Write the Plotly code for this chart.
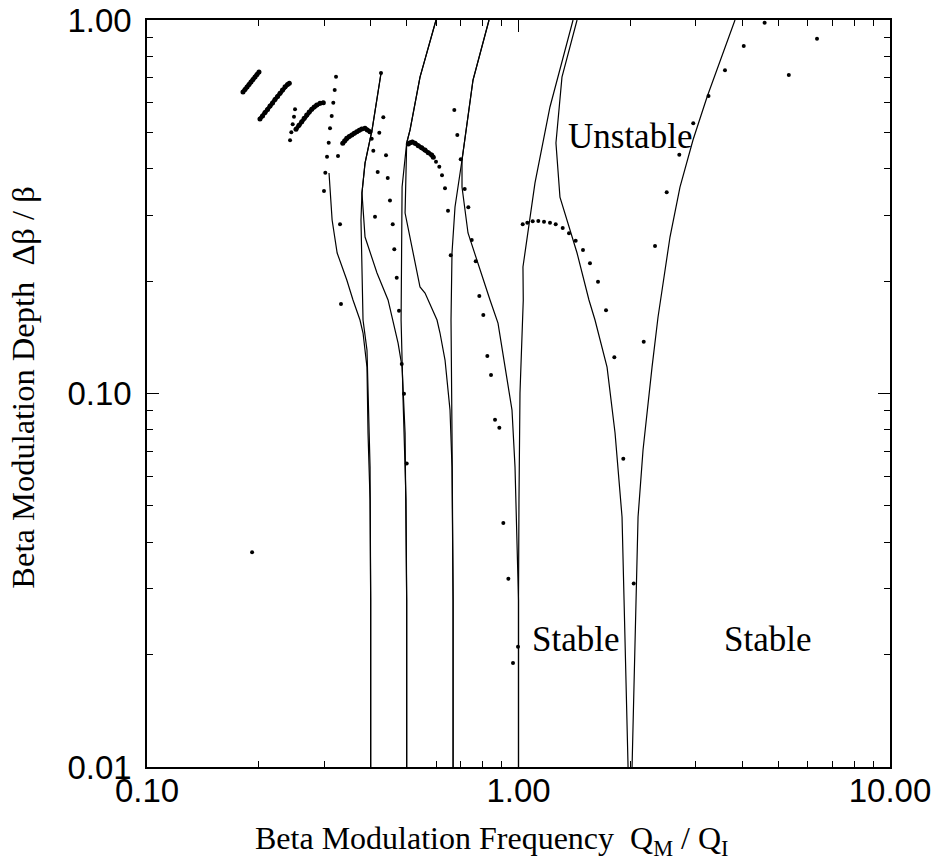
import math
import plotly.graph_objects as go

# ---------------- stability boundary curves (Q_M/Q_I , dBeta/Beta) ----------------
t04l_x = [0.309, 0.315, 0.325, 0.345, 0.3585, 0.3744, 0.3815, 0.391, 0.3935, 0.3985, 0.40, 0.40]
t04l_y = [0.3894, 0.2914, 0.2378, 0.2013, 0.178, 0.1573, 0.1452, 0.1177, 0.0784, 0.0519, 0.028, 0.01]

t04r_x = [0.4266, 0.4035, 0.3863, 0.379, 0.3767, 0.3815, 0.391, 0.3985, 0.40, 0.40]
t04r_y = [0.7213, 0.5077, 0.4141, 0.3441, 0.2914, 0.1573, 0.1307, 0.0636, 0.028, 0.01]

t05l_x = [0.4266, 0.4035, 0.3863, 0.379, 0.3863, 0.416, 0.4455, 0.4596, 0.4741, 0.486, 0.4951, 0.498, 0.50, 0.50]
t05l_y = [0.7213, 0.5077, 0.4141, 0.3441, 0.2624, 0.2102, 0.178, 0.1573, 0.1365, 0.1177, 0.0784, 0.0423, 0.028, 0.01]

t05r_x = [0.5998, 0.5431, 0.5106, 0.50, 0.486, 0.4845, 0.483, 0.489, 0.498, 0.50, 0.50]
t05r_y = [1.0, 0.7033, 0.5077, 0.4685, 0.3571, 0.20, 0.1573, 0.0961, 0.0519, 0.028, 0.01]

t067l_x = [0.5998, 0.5431, 0.5106, 0.50, 0.4951, 0.5431, 0.5603, 0.6035, 0.6148, 0.6342, 0.6541, 0.6622, 0.6667, 0.6667]
t067l_y = [1.0, 0.7033, 0.5077, 0.4685, 0.3042, 0.1928, 0.1858, 0.1573, 0.1452, 0.1229, 0.0903, 0.0636, 0.028, 0.01]

t067r_x = [0.833, 0.7543, 0.7046, 0.6747, 0.6622, 0.6582, 0.6622, 0.6667, 0.6667]
t067r_y = [1.0, 0.6908, 0.4218, 0.3157, 0.2378, 0.1573, 0.0784, 0.028, 0.01]

t10l_x = [0.833, 0.7543, 0.7046, 0.7046, 0.7313, 0.8025, 0.8382, 0.8807, 0.9605, 0.9786, 0.9908, 1.0, 1.0]
t10l_y = [1.0, 0.6908, 0.4218, 0.3571, 0.269, 0.2013, 0.178, 0.1544, 0.0903, 0.0636, 0.0423, 0.028, 0.01]

t10r_x = [1.4022, 1.2153, 1.1076, 1.028, 1.03, 1.0093, 1.003, 1.0, 1.0]
t10r_y = [1.0, 0.5849, 0.3662, 0.2182, 0.178, 0.1003, 0.0519, 0.028, 0.01]

t20l_x = [1.4375, 1.3092, 1.2613, 1.293, 1.4375, 1.5476, 1.6068, 1.7312, 1.8193, 1.8998, 1.9236, 1.9478, 1.972]
t20l_y = [1.0, 0.7033, 0.4685, 0.3357, 0.2378, 0.178, 0.1573, 0.1177, 0.0784, 0.0467, 0.028, 0.0151, 0.01]

t20r_x = [3.8262, 3.2174, 2.9492, 2.7207, 2.5575, 2.4193, 2.3747, 2.288, 2.2182, 2.1637, 2.098, 2.085, 2.0722, 2.0215]
t20r_y = [1.0, 0.622, 0.4773, 0.3571, 0.2624, 0.178, 0.1603, 0.1177, 0.0903, 0.0706, 0.0467, 0.0381, 0.028, 0.01]

curves = [(t04l_x, t04l_y), (t04r_x, t04r_y), (t05l_x, t05l_y), (t05r_x, t05r_y),
          (t067l_x, t067l_y), (t067r_x, t067r_y), (t10l_x, t10l_y), (t10r_x, t10r_y),
          (t20l_x, t20l_y), (t20r_x, t20r_y)]

# ---------------- dense chains of tracking points ----------------
seg1_x = [0.1813, 0.1836, 0.1859, 0.1882, 0.1905, 0.1929, 0.1953, 0.1977, 0.2002]
seg1_y = [0.6415, 0.6515, 0.6617, 0.6720, 0.6823, 0.6930, 0.7036, 0.7146, 0.7256]
seg2_x = [0.2014, 0.2046, 0.2078, 0.2111, 0.2144, 0.2177, 0.2211, 0.2246, 0.2281, 0.2316, 0.2353, 0.2389, 0.2416]
seg2_y = [0.5431, 0.5533, 0.5654, 0.5759, 0.5884, 0.5994, 0.6125, 0.6239, 0.6363, 0.6494, 0.6628, 0.6719, 0.6769]
seg3_x = [0.2518, 0.2565, 0.2609, 0.2649, 0.2691, 0.2733, 0.2776, 0.2819, 0.2863, 0.2922, 0.2983]
seg3_y = [0.5097, 0.5224, 0.5341, 0.5454, 0.5567, 0.5671, 0.5766, 0.5849, 0.5921, 0.5983, 0.6005]
seg4_x = [0.3364, 0.3405, 0.3448, 0.3502, 0.3557, 0.3612, 0.3669, 0.3726, 0.3784, 0.3862, 0.3918, 0.3984]
seg4_y = [0.4675, 0.4748, 0.4822, 0.4876, 0.4921, 0.4973, 0.5022, 0.5069, 0.5106, 0.5128, 0.5075, 0.5022]
seg5_x = [0.5051, 0.5104, 0.5178, 0.5265, 0.5374, 0.5488, 0.5602, 0.5718, 0.5839, 0.5898]
seg5_y = [0.4656, 0.4692, 0.4713, 0.4675, 0.4607, 0.4550, 0.4487, 0.4412, 0.4351, 0.4290]
segments = [(seg1_x, seg1_y), (seg2_x, seg2_y), (seg3_x, seg3_y), (seg4_x, seg4_y), (seg5_x, seg5_y)]

# ---------------- isolated points ----------------
dots_x = [
    0.3227, 0.3201, 0.3173, 0.3142, 0.3109, 0.3084, 0.3052, 0.3020, 0.2995,
    0.2503, 0.2487, 0.2467, 0.2446, 0.2427,
    0.3267, 0.3308, 0.3328, 0.4265,
    0.4326, 0.4220, 0.4026, 0.4066, 0.4399, 0.4178, 0.4446, 0.4509, 0.4109, 0.4586,
    0.4631, 0.4701, 0.4768, 0.4849, 0.4918, 0.5001,
    0.5997, 0.6121, 0.6224, 0.6341, 0.6460, 0.6569,
    0.6718, 0.6844, 0.6990, 0.7165, 0.7327, 0.7483, 0.7671, 0.7844, 0.8041, 0.8243,
    0.8434, 0.8646, 0.8880, 0.9103, 0.9390, 0.9969, 0.9665,
    1.0264, 1.0561, 1.0920, 1.1306, 1.1713, 1.2156, 1.2593, 1.3152, 1.3675, 1.4254,
    1.4914, 1.5575, 1.6368, 1.7201,
    1.8111, 1.9146, 2.0424, 2.1730,
    2.3308, 2.5057, 2.7090, 2.954, 3.247, 3.596, 4.039, 4.598, 5.341, 6.361,
    0.1918,
]
dots_y = [
    0.7050, 0.6494, 0.6005, 0.5533, 0.5128, 0.4692, 0.4305, 0.3902, 0.3484,
    0.5766, 0.5508, 0.5256, 0.5003, 0.4762,
    0.4324, 0.2838, 0.1737, 0.7213,
    0.5489, 0.4991, 0.4810, 0.4467, 0.4343, 0.3918, 0.3776, 0.3284, 0.2974, 0.2838,
    0.2432, 0.2042, 0.1666, 0.1200, 0.0999, 0.0650,
    0.4174, 0.4048, 0.3838, 0.3542, 0.3085, 0.2344,
    0.5741, 0.4921, 0.4237, 0.3528, 0.3151, 0.2576, 0.2259, 0.1824, 0.1622, 0.1260,
    0.1121, 0.0851, 0.0810, 0.0450, 0.0319, 0.0210, 0.0190,
    0.2838, 0.2866, 0.2891, 0.2896, 0.2884, 0.2866, 0.2838, 0.2774, 0.2685, 0.2565,
    0.2421, 0.2232, 0.1992, 0.1670,
    0.1250, 0.0669, 0.0310, 0.1376,
    0.2483, 0.3457, 0.4357, 0.5290, 0.6259, 0.7335, 0.8518, 0.9835, 0.7124, 0.8910,
    0.0376,
]

# ---------------- axes ----------------
x_ticks = [0.1, 1.0, 10.0]
x_ticktext = ["0.10", "1.00", "10.00"]
y_ticks = [0.01, 0.1, 1.0]
y_ticktext = ["0.01", "0.10", "1.00"]
minor_x = [0.2, 0.3, 0.4, 0.5, 0.6, 0.7, 0.8, 0.9, 2, 3, 4, 5, 6, 7, 8, 9]
minor_y = [0.02, 0.03, 0.04, 0.05, 0.06, 0.07, 0.08, 0.09, 0.2, 0.3, 0.4, 0.5, 0.6, 0.7, 0.8, 0.9]

# region labels: (text, x, y)
labels = [("Unstable", 2.0, 0.489), ("Stable", 1.42, 0.0220), ("Stable", 4.67, 0.0220)]

fig = go.Figure()
for cx, cy in curves:
    fig.add_trace(go.Scatter(x=cx, y=cy, mode="lines", line=dict(color="black", width=1.2),
                             hoverinfo="skip", showlegend=False))
for sx, sy in segments:
    fig.add_trace(go.Scatter(x=sx, y=sy, mode="lines+markers",
                             line=dict(color="black", width=4),
                             marker=dict(color="black", size=5),
                             hoverinfo="skip", showlegend=False))
fig.add_trace(go.Scatter(x=dots_x, y=dots_y, mode="markers",
                         marker=dict(color="black", size=4),
                         hoverinfo="skip", showlegend=False))

tickfont = dict(family="Liberation Sans, Arial, sans-serif", size=33, color="black")
axis_common = dict(
    type="log", showgrid=False, zeroline=False, automargin=False,
    showline=True, linecolor="black", linewidth=1.5, mirror="ticks",
    ticks="inside", ticklen=12, tickwidth=1.2, tickcolor="black",
    tickfont=tickfont,
)
fig.update_xaxes(range=[-1, 1], tickvals=x_ticks, ticktext=x_ticktext, ticklabelstandoff=-6,
                 minor=dict(ticks="inside", ticklen=6, tickwidth=1.2, tickcolor="black",
                            tickvals=minor_x, showgrid=False),
                 **axis_common)
fig.update_yaxes(range=[-2, 0], tickvals=y_ticks, ticktext=y_ticktext, ticklabelstandoff=7,
                 minor=dict(ticks="inside", ticklen=6, tickwidth=1.2, tickcolor="black",
                            tickvals=minor_y, showgrid=False),
                 **axis_common)

serif = "Liberation Serif, Times New Roman, serif"
annotations = []
for text, lx, ly in labels:
    annotations.append(dict(x=math.log10(lx), y=math.log10(ly), xref="x", yref="y",
                            text=text, showarrow=False,
                            font=dict(family=serif, size=35, color="black")))
annotations.append(dict(x=0.464, y=-0.098, xref="paper", yref="paper",
                        xanchor="center", yanchor="middle",
                        text="Beta Modulation Frequency&nbsp;&nbsp;Q<sub>M</sub> / Q<sub>I</sub>",
                        showarrow=False, font=dict(family=serif, size=32, color="black")))
annotations.append(dict(x=-0.168, y=0.508, xref="paper", yref="paper", textangle=-90,
                        xanchor="center", yanchor="middle",
                        text="Beta Modulation Depth&nbsp;&nbsp;\u0394\u03b2 / \u03b2",
                        showarrow=False, font=dict(family=serif, size=32.5, color="black")))

fig.update_layout(
    width=936, height=861,
    margin=dict(l=147, r=46, t=20, b=94, autoexpand=False),
    paper_bgcolor="white", plot_bgcolor="white",
    showlegend=False,
    annotations=annotations,
)

fig.write_html("out.html")
